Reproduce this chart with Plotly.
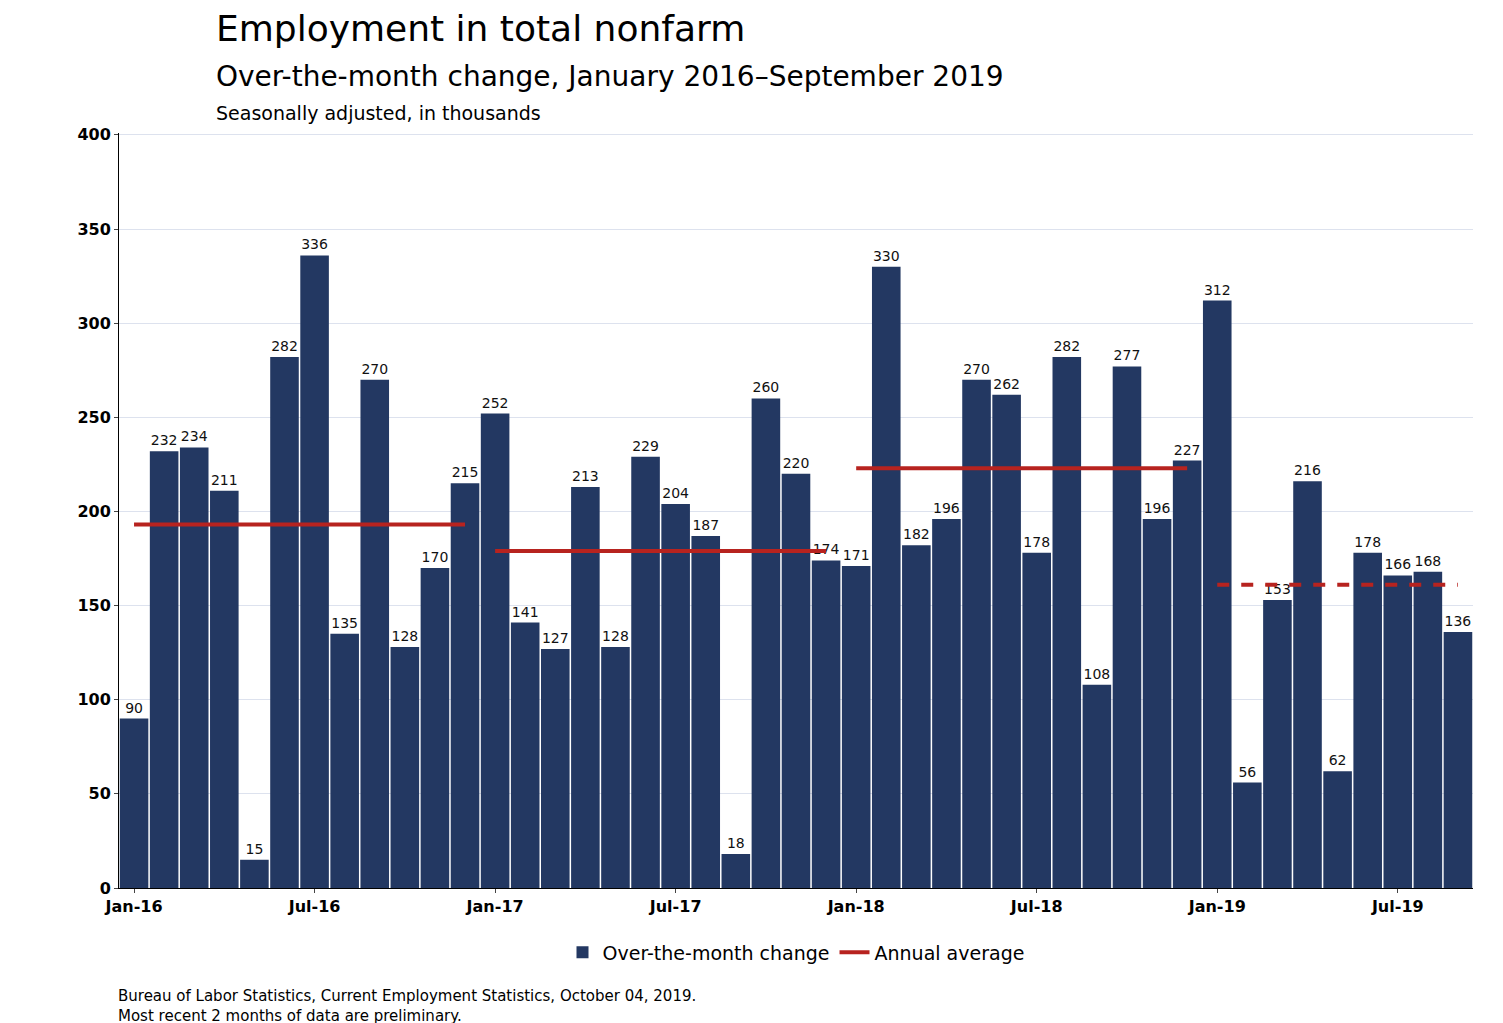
import plotly.graph_objects as go

values = [90,232,234,211,15,282,336,135,270,128,170,215,
          252,141,127,213,128,229,204,187,18,260,220,174,
          171,330,182,196,270,262,178,282,108,277,196,227,
          312,56,153,216,62,178,166,168,136]
tick_labels = ["Jan-16","Jul-16","Jan-17","Jul-17","Jan-18","Jul-18","Jan-19","Jul-19"]
avg_values = [193, 179, 223, 161]
avg_ranges = [(0, 11), (12, 23), (24, 35), (36, 44)]

x = list(range(len(values)))
navy = "#233862"
red = "#B7231F"
font = "DejaVu Sans"

fig = go.Figure()
fig.add_trace(go.Bar(x=x, y=values, marker_color=navy, marker_line_width=0,
                     text=[str(v) for v in values], textposition="outside",
                     textfont=dict(size=14, color="#111"), cliponaxis=False,
                     width=0.95, name="Over-the-month change"))
for i, (a, b) in enumerate(avg_ranges):
    fig.add_trace(go.Scatter(x=[a, b], y=[avg_values[i]]*2, mode="lines",
                             line=dict(color=red, width=4, dash="dash" if i == 3 else "solid"),
                             name="Annual average", showlegend=(i == 0)))

fig.update_layout(
    width=1503, height=1023, plot_bgcolor="white", paper_bgcolor="white",
    margin=dict(l=111, r=38, t=125, b=143),
    font=dict(family=font, color="#000"),
    bargap=0.05,
    xaxis=dict(range=[-0.5, 44.5], tickvals=[0,6,12,18,24,30,36,42], ticktext=tick_labels,
               showline=True, linecolor="#000", ticks="outside", ticklen=4,
               tickfont=dict(size=16, family=font, weight="bold"), showgrid=False),
    yaxis=dict(range=[0, 401], tickvals=[0,50,100,150,200,250,300,350,400], showline=True, linecolor="#000",
               ticks="outside", ticklen=4, gridcolor="#dde2ee",
               tickfont=dict(size=16, family=font, weight="bold")),
    legend=dict(orientation="h", x=0.5, xanchor="center", y=-0.06, yanchor="top",
                font=dict(size=19)),
    showlegend=True,
)
ann = [
    ("Employment in total nonfarm", 36, 30),
    ("Over-the-month change, January 2016–September 2019", 28, 77),
    ("Seasonally adjusted, in thousands", 19, 113),
]
for t, s, ypx in ann:
    fig.add_annotation(text=t, xref="paper", yref="paper", x=(213-118)/1347, xanchor="left",
                       y=1 + (133 - ypx)/747, yanchor="middle", showarrow=False,
                       font=dict(size=s, family=font, color="#000"))
fig.add_annotation(text="Bureau of Labor Statistics, Current Employment Statistics, October 04, 2019.<br>Most recent 2 months of data are preliminary.",
                   xref="paper", yref="paper", x=(115-118)/1347, xanchor="left", align="left",
                   y=-(997-880)/747, yanchor="middle", showarrow=False,
                   font=dict(size=15, family=font, color="#000"))
fig.write_html("out.html")
